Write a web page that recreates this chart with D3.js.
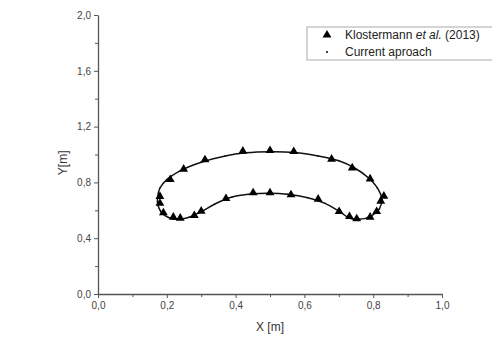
<!DOCTYPE html>
<html>
<head>
<meta charset="utf-8">
<script src="https://cdn.jsdelivr.net/npm/d3@7"></script>
<style>
  body { margin: 0; background: #fff; }
  .axis text { font-family: "Liberation Sans", Arial, sans-serif; font-size: 10px; fill: #444; }
  .axis path, .axis line { stroke: #555; }
</style>
</head>
<body>
<div id="chart"></div>
<script>
// Klostermann et al. (2013) reference points [x, y]
var klostermann = [
  [0.180, 0.703], [0.210, 0.824], [0.249, 0.898], [0.311, 0.966], [0.421, 1.027],
  [0.500, 1.032], [0.569, 1.025], [0.679, 0.970], [0.739, 0.908], [0.791, 0.829],
  [0.831, 0.705], [0.822, 0.669], [0.810, 0.595], [0.791, 0.554], [0.752, 0.543],
  [0.731, 0.559], [0.701, 0.595], [0.640, 0.683], [0.561, 0.715], [0.500, 0.729],
  [0.451, 0.729], [0.372, 0.688], [0.300, 0.597], [0.280, 0.566], [0.239, 0.547],
  [0.219, 0.554], [0.190, 0.586], [0.180, 0.654]
];

// current approach, closed contour [x, y]
var current = [
  [0.173, 0.690], [0.180, 0.760], [0.200, 0.820], [0.240, 0.885], [0.300, 0.945],
  [0.370, 0.990], [0.430, 1.012], [0.500, 1.020], [0.570, 1.015], [0.640, 0.990],
  [0.700, 0.955], [0.745, 0.905], [0.785, 0.835], [0.812, 0.760], [0.825, 0.680],
  [0.818, 0.610], [0.795, 0.560], [0.760, 0.535], [0.730, 0.545], [0.700, 0.595],
  [0.660, 0.650], [0.610, 0.690], [0.550, 0.715], [0.500, 0.722], [0.450, 0.718],
  [0.390, 0.695], [0.340, 0.645], [0.300, 0.590], [0.265, 0.550], [0.235, 0.535],
  [0.205, 0.548], [0.183, 0.590], [0.174, 0.640]
];

var xTicks = [0, 0.2, 0.4, 0.6, 0.8, 1.0];
var xMinor = [0.1, 0.3, 0.5, 0.7, 0.9];
var yTicks = [0, 0.4, 0.8, 1.2, 1.6, 2.0];
var yMinor = [0.2, 0.6, 1.0, 1.4, 1.8];

var legendLabels = ["Klostermann", "Current aproach"];

const W = 492, H = 338;
const margin = {top: 15, right: 50, bottom: 44, left: 98},
      width = W - margin.left - margin.right,
      height = H - margin.top - margin.bottom;

var svg = d3.select("#chart")
  .append("svg")
  .attr("width", W)
  .attr("height", H)
  .append("g")
  .attr("transform", "translate(" + margin.left + "," + margin.top + ")");

var x = d3.scaleLinear().domain([0, 1]).range([0, width]);
var y = d3.scaleLinear().domain([0, 2]).range([height, 0]);

var fmt = function(d) { return d3.format(".1f")(d).replace(".", ","); };

var xAxis = d3.axisBottom(x).tickValues(xTicks).tickFormat(fmt).tickSize(4).tickSizeOuter(0).tickPadding(4);
var yAxis = d3.axisLeft(y).tickValues(yTicks).tickFormat(fmt).tickSize(4).tickSizeOuter(0).tickPadding(3);

svg.append("g")
  .attr("class", "axis x")
  .attr("transform", "translate(0," + height + ")")
  .call(xAxis);
svg.append("g")
  .attr("class", "axis x-minor")
  .attr("transform", "translate(0," + height + ")")
  .call(d3.axisBottom(x).tickValues(xMinor).tickFormat("").tickSize(3).tickSizeOuter(0))
  .select(".domain").remove();

svg.append("g")
  .attr("class", "axis y")
  .call(yAxis);
svg.append("g")
  .attr("class", "axis y-minor")
  .call(d3.axisLeft(y).tickValues(yMinor).tickFormat("").tickSize(3).tickSizeOuter(0))
  .select(".domain").remove();

svg.selectAll(".axis .domain").style("stroke-width", 1.3);

// axis titles
svg.append("text")
  .attr("x", x(0.5))
  .attr("y", height + 37)
  .style("text-anchor", "middle")
  .style("font-family", "Liberation Sans, Arial, sans-serif")
  .style("font-size", "12px")
  .style("fill", "#333")
  .text("X [m]");

svg.append("text")
  .attr("transform", "translate(" + (-31) + "," + y(0.94) + ") rotate(-90)")
  .style("text-anchor", "middle")
  .style("font-family", "Liberation Sans, Arial, sans-serif")
  .style("font-size", "12px")
  .style("fill", "#333")
  .text("Y[m]");

// current approach line
var line = d3.line()
  .x(function(d) { return x(d[0]); })
  .y(function(d) { return y(d[1]); })
  .curve(d3.curveCatmullRomClosed);

svg.append("path")
  .datum(current)
  .attr("d", line)
  .style("fill", "none")
  .style("stroke", "#111")
  .style("stroke-width", 1.5);

svg.selectAll(".dot")
  .data(current)
  .enter()
  .append("circle")
  .attr("class", "dot")
  .attr("cx", function(d) { return x(d[0]); })
  .attr("cy", function(d) { return y(d[1]); })
  .attr("r", 0.8)
  .style("fill", "#111");

// Klostermann triangles
var tri = d3.symbol().type(d3.symbolTriangle).size(34);
svg.selectAll(".tri")
  .data(klostermann)
  .enter()
  .append("path")
  .attr("class", "tri")
  .attr("d", tri)
  .attr("transform", function(d) { return "translate(" + x(d[0]) + "," + (y(d[1]) + 0.5) + ")"; })
  .style("fill", "#000");

// legend
var lg = svg.append("g").attr("transform", "translate(" + (307 - margin.left) + "," + (27 - margin.top) + ")");
lg.append("rect")
  .attr("width", 186)
  .attr("height", 33)
  .style("fill", "#fff")
  .style("stroke", "#aaa")
  .style("stroke-width", 1);
lg.append("path")
  .attr("d", tri)
  .attr("transform", "translate(20,8)")
  .style("fill", "#000");
var t1 = lg.append("text")
  .attr("x", 38)
  .attr("y", 12)
  .style("font-family", "Liberation Sans, Arial, sans-serif")
  .style("font-size", "12px")
  .style("fill", "#222");
t1.append("tspan").text(legendLabels[0] + " ");
t1.append("tspan").style("font-style", "italic").text("et al.");
t1.append("tspan").text(" (2013)");
lg.append("circle")
  .attr("cx", 20)
  .attr("cy", 25)
  .attr("r", 1)
  .style("fill", "#000");
lg.append("text")
  .attr("x", 38)
  .attr("y", 29)
  .style("font-family", "Liberation Sans, Arial, sans-serif")
  .style("font-size", "12px")
  .style("fill", "#222")
  .text(legendLabels[1]);
</script>
</body>
</html>
